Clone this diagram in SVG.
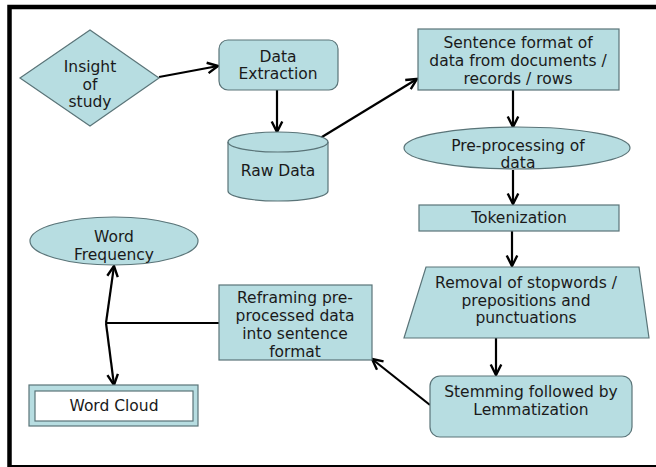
<svg xmlns="http://www.w3.org/2000/svg" width="656" height="467" viewBox="0 0 656 467">
<defs>
<style>
.n{fill:#b7dde1;stroke:#5a7478;stroke-width:1.2}
.t{font-family:"DejaVu Sans",sans-serif;font-size:15.5px;fill:#1a1a1a;text-anchor:middle}
.c{stroke:#000;stroke-width:2.2;fill:none}
.a{marker-end:url(#ah)}
</style>
<marker id="ah" viewBox="0 0 10 10" refX="9" refY="5" markerWidth="6" markerHeight="6" orient="auto-start-reverse" markerUnits="strokeWidth">
<path d="M1,1 L9,5 L1,9" fill="none" stroke="#000" stroke-width="1.8"/>
</marker>
</defs>
<rect width="656" height="467" fill="#fff"/>
<path d="M9.5,470 L9.5,7 L660,7" fill="none" stroke="#000" stroke-width="4.5"/>
<line x1="9" y1="466" x2="656" y2="466" stroke="#000" stroke-width="2"/>

<g id="connectors">
<line class="c a" x1="159" y1="77" x2="218" y2="66"/>
<line class="c a" x1="277" y1="90" x2="277" y2="132"/>
<line class="c a" x1="317" y1="140" x2="417" y2="79"/>
<line class="c a" x1="513" y1="90" x2="513" y2="127"/>
<line class="c a" x1="513" y1="170" x2="513" y2="204"/>
<line class="c a" x1="512" y1="231" x2="512" y2="266"/>
<line class="c a" x1="496" y1="338" x2="496" y2="375"/>
<line class="c a" x1="430" y1="405" x2="372" y2="359"/>
<line class="c" x1="106" y1="323" x2="219" y2="323" stroke="#333"/>
<line class="c a" x1="106" y1="323" x2="114" y2="266"/>
<line class="c a" x1="106" y1="323" x2="114" y2="385"/>
</g>

<g id="insight">
<polygon class="n" points="20,78 90,30 159,78 90,126"/>
<text class="t" x="90" y="72">Insight</text>
<text class="t" x="90" y="90">of</text>
<text class="t" x="90" y="107">study</text>
</g>

<g id="data-extraction">
<rect class="n" x="219" y="40" width="119" height="50" rx="9"/>
<text class="t" x="278" y="62">Data</text>
<text class="t" x="278" y="79">Extraction</text>
</g>

<g id="raw-data">
<path class="n" d="M228,142 L228,191 A50,10 0 0 0 328,191 L328,142 A50,10 0 0 0 228,142 Z"/>
<path d="M228,142 A50,10 0 0 0 328,142" fill="none" stroke="#5a7478" stroke-width="1.2"/>
<text class="t" x="278" y="176">Raw Data</text>
</g>

<g id="sentence-format">
<rect class="n" x="418" y="29" width="201" height="61"/>
<text class="t" x="518" y="48">Sentence format of</text>
<text class="t" x="518" y="66">data from documents /</text>
<text class="t" x="518" y="84">records / rows</text>
</g>

<g id="pre-processing">
<ellipse class="n" cx="517" cy="148" rx="113" ry="21"/>
<text class="t" x="518" y="151">Pre-processing of</text>
<text class="t" x="518" y="168">data</text>
</g>

<g id="tokenization">
<rect class="n" x="419" y="205" width="200" height="26"/>
<text class="t" x="519" y="223">Tokenization</text>
</g>

<g id="removal">
<polygon class="n" points="426,267 639,267 649,338 404,338"/>
<text class="t" x="526" y="288">Removal of stopwords /</text>
<text class="t" x="526" y="306">prepositions and</text>
<text class="t" x="526" y="323">punctuations</text>
</g>

<g id="stemming">
<rect class="n" x="430" y="376" width="202" height="61" rx="10"/>
<text class="t" x="531" y="397">Stemming followed by</text>
<text class="t" x="531" y="415">Lemmatization</text>
</g>

<g id="reframing">
<rect class="n" x="219" y="285" width="153" height="75"/>
<text class="t" x="295" y="303">Reframing pre-</text>
<text class="t" x="295" y="321">processed data</text>
<text class="t" x="295" y="339">into sentence</text>
<text class="t" x="295" y="357">format</text>
</g>

<g id="word-frequency">
<ellipse class="n" cx="114" cy="241" rx="84" ry="24"/>
<text class="t" x="114" y="242">Word</text>
<text class="t" x="114" y="260">Frequency</text>
</g>

<g id="word-cloud">
<rect class="n" x="29" y="385" width="169" height="41"/>
<rect x="35" y="391" width="158" height="30" fill="#fff" stroke="#5a7478" stroke-width="1.2"/>
<text class="t" x="114" y="411">Word Cloud</text>
</g>
</svg>
